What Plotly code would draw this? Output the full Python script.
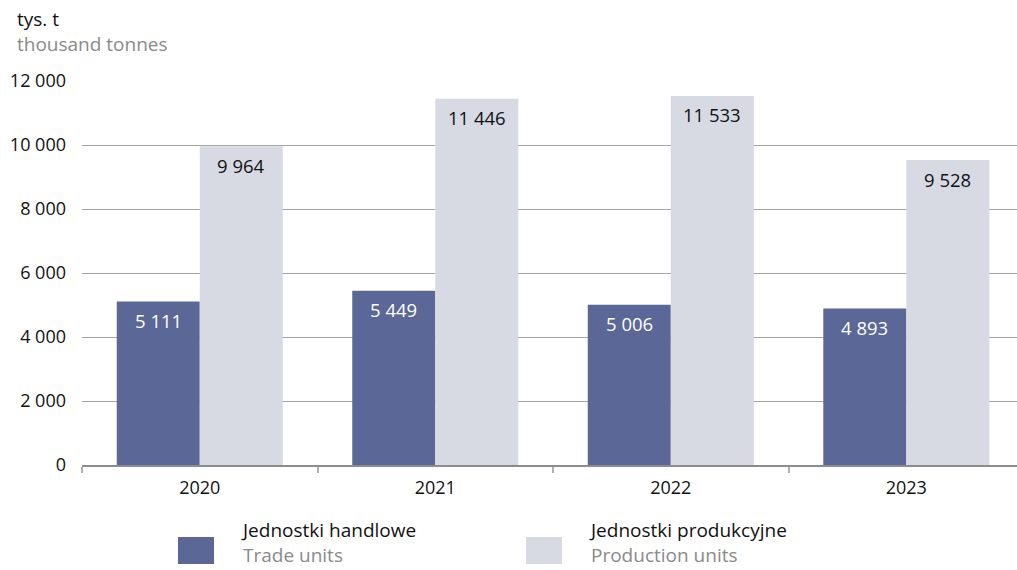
import plotly.graph_objects as go

years = ["2020", "2021", "2022", "2023"]
trade_units = [5111, 5449, 5006, 4893]
production_units = [9964, 11446, 11533, 9528]
y_ticks = [0, 2000, 4000, 6000, 8000, 10000, 12000]

TRADE_COLOR = "#5b6796"
PROD_COLOR = "#d7dae3"
GRID_COLOR = "#a3a3a3"
SUB_COLOR = "#8a8a8a"
FONT = "Open Sans"
FS = 19
BARGAP = 0.295

fig = go.Figure()
fig.add_trace(go.Bar(x=years, y=trade_units, marker_color=TRADE_COLOR,
                     marker_line_width=0, name="Jednostki handlowe"))
fig.add_trace(go.Bar(x=years, y=production_units, marker_color=PROD_COLOR,
                     marker_line_width=0, name="Jednostki produkcyjne"))

# value labels just under the top of each bar
half = (1 - BARGAP) / 4
for i, (t, p) in enumerate(zip(trade_units, production_units)):
    for val, off, col in ((t, -half, "white"), (p, half, "#111111")):
        fig.add_annotation(x=i + off, y=val, xref="x", yref="y",
                           text=f"{val:,}".replace(",", " "), showarrow=False,
                           yanchor="middle", yshift=-19,
                           font=dict(family=FONT, size=FS - 0.5, color=col))

# unit caption (Polish / English)
fig.add_annotation(x=15, y=4, xref="paper", yref="paper",
                   text=f"tys. t<br><span style='color:{SUB_COLOR}'>thousand tonnes</span>",
                   showarrow=False, xanchor="left", yanchor="top", align="left",
                   font=dict(family=FONT, size=FS, color="#111111"))

# legend drawn by hand: colour box, Polish label, English label
legend_items = [
    (178, TRADE_COLOR, "Jednostki handlowe", "Trade units"),
    (526, PROD_COLOR, "Jednostki produkcyjne", "Production units"),
]
for x0, col, pl, en in legend_items:
    fig.add_shape(type="rect", xref="paper", yref="paper",
                  x0=x0, x1=x0 + 36, y0=537, y1=564,
                  fillcolor=col, line_width=0)
    fig.add_annotation(x=x0 + 61, y=570, xref="paper", yref="paper",
                       text=f"{pl}<br><span style='color:{SUB_COLOR}'>{en}</span>",
                       showarrow=False, xanchor="left", yanchor="bottom", align="left",
                       font=dict(family=FONT, size=FS, color="#111111"))

W, H = 1017, 570
L, R, T, B = 82, 0, 81, 105

fig.update_layout(
    width=W, height=H,
    margin=dict(l=L, r=R, t=T, b=B, pad=0),
    paper_bgcolor="white", plot_bgcolor="white",
    barmode="group", bargap=BARGAP, bargroupgap=0,
    showlegend=False,
    separators=", ",
    font=dict(family=FONT, size=FS, color="#111111"),
)

# paper coords for hand-placed items are given in pixels; convert
for a in fig.layout.annotations:
    if a.xref == "paper":
        a.x = (a.x - L) / (W - L - R)
        a.y = 1 - (a.y - T) / (H - T - B)
for s in fig.layout.shapes:
    s.x0 = (s.x0 - L) / (W - L - R)
    s.x1 = (s.x1 - L) / (W - L - R)
    y0, y1 = s.y0, s.y1
    s.y0 = 1 - (y1 - T) / (H - T - B)
    s.y1 = 1 - (y0 - T) / (H - T - B)

fig.update_xaxes(
    type="category", range=[-0.5, 3.47],
    showgrid=False, showline=True, linecolor="#8c8c8c", linewidth=1.5,
    ticks="outside", tickson="boundaries", ticklen=6, tickwidth=1.5,
    tickcolor="#b0b0b0", ticklabelstandoff=6,
    tickfont=dict(family=FONT, size=FS - 1, color="#111111"),
)
fig.update_yaxes(
    range=[0, 12000], tickvals=y_ticks, tickformat=",d",
    showgrid=True, gridcolor=GRID_COLOR, gridwidth=1.3,
    zeroline=False, showline=False, ticks="",
    ticklabelstandoff=15,
    tickfont=dict(family=FONT, size=FS - 1, color="#111111"),
)

fig.write_html("out.html")
